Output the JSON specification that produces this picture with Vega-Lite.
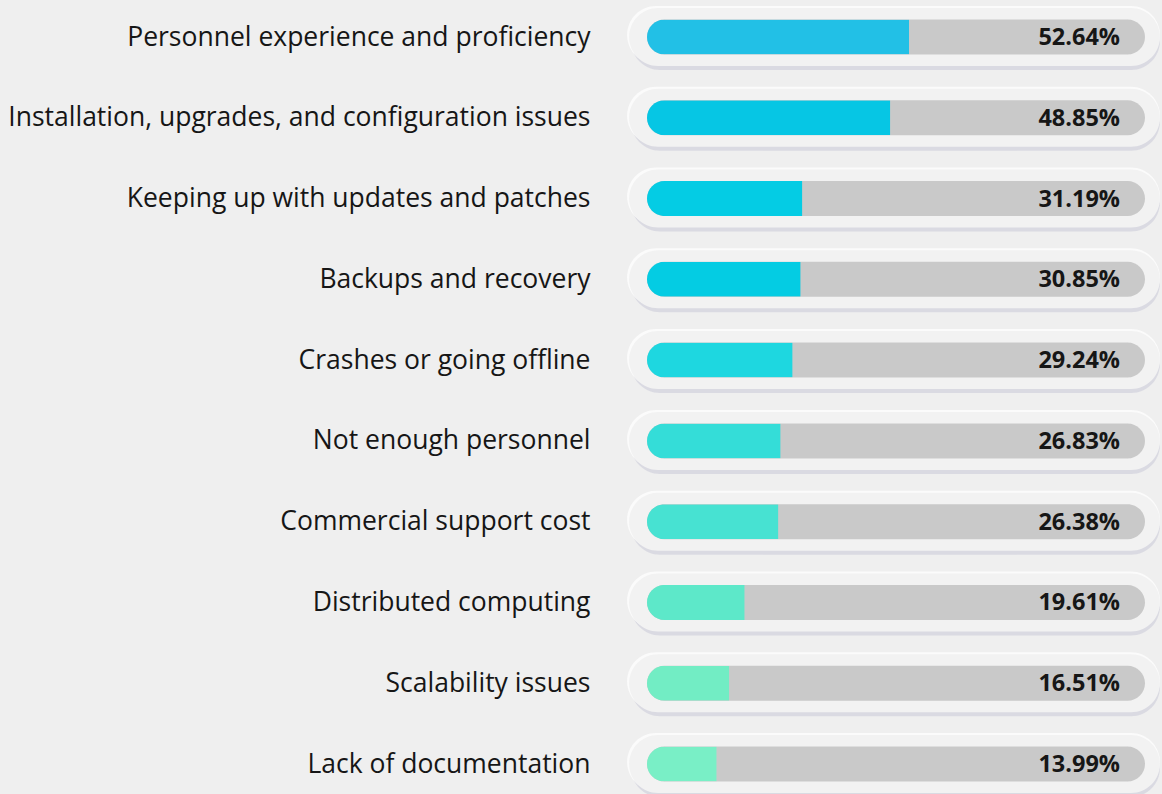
{
  "$schema": "https://vega.github.io/schema/vega-lite/v6.json",
  "width": 498,
  "height": 727,
  "autosize": {"type": "none"},
  "padding": {"left": 647, "top": 37, "right": 17, "bottom": 30},
  "background": "#efefef",
  "config": {"view": {"stroke": null}},
  "data": {
    "values": [
      {"challenge": "Personnel experience and proficiency", "value": 0.5264},
      {"challenge": "Installation, upgrades, and configuration issues", "value": 0.4885},
      {"challenge": "Keeping up with updates and patches", "value": 0.3119},
      {"challenge": "Backups and recovery", "value": 0.3085},
      {"challenge": "Crashes or going offline", "value": 0.2924},
      {"challenge": "Not enough personnel", "value": 0.2683},
      {"challenge": "Commercial support cost", "value": 0.2638},
      {"challenge": "Distributed computing", "value": 0.1961},
      {"challenge": "Scalability issues", "value": 0.1651},
      {"challenge": "Lack of documentation", "value": 0.1399}
    ]
  },
  "encoding": {
    "y": {
      "field": "challenge",
      "type": "nominal",
      "sort": null,
      "scale": {"type": "point", "padding": 0},
      "axis": {
        "title": null,
        "domain": false,
        "ticks": false,
        "grid": false,
        "labelPadding": 57,
        "labelFontSize": 26.5,
        "labelFont": "Open Sans",
        "labelColor": "#161616",
        "labelLimit": 0
      }
    }
  },
  "layer": [
    {
      "mark": {"type": "bar", "size": 58, "cornerRadius": 29, "color": "#d4d5de", "yOffset": 4, "xOffset": 2, "opacity": 0.8},
      "encoding": {
        "x": {"datum": -0.036, "type": "quantitative", "scale": {"domain": [0, 1], "nice": false, "zero": false}, "axis": null},
        "x2": {"datum": 1.03}
      }
    },
    {
      "mark": {"type": "bar", "size": 58, "cornerRadius": 29, "color": "#fbfbfb", "yOffset": -2, "xOffset": -2},
      "encoding": {
        "x": {"datum": -0.036, "type": "quantitative"},
        "x2": {"datum": 1.03}
      }
    },
    {
      "mark": {"type": "bar", "size": 58, "cornerRadius": 29, "color": "#f2f2f2"},
      "encoding": {
        "x": {"datum": -0.036, "type": "quantitative"},
        "x2": {"datum": 1.03}
      }
    },
    {
      "mark": {"type": "bar", "size": 35, "cornerRadius": 17.5, "color": "#c9c9c9"},
      "encoding": {
        "x": {"datum": 0, "type": "quantitative"},
        "x2": {"datum": 1}
      }
    },
    {
      "mark": {"type": "bar", "size": 35, "cornerRadiusTopLeft": 17.5, "cornerRadiusBottomLeft": 17.5},
      "encoding": {
        "x": {"field": "value", "type": "quantitative"},
        "color": {
          "field": "challenge",
          "type": "nominal",
          "sort": null,
          "legend": null,
          "scale": {
            "domain": [
              "Personnel experience and proficiency",
              "Installation, upgrades, and configuration issues",
              "Keeping up with updates and patches",
              "Backups and recovery",
              "Crashes or going offline",
              "Not enough personnel",
              "Commercial support cost",
              "Distributed computing",
              "Scalability issues",
              "Lack of documentation"
            ],
            "range": ["#22c0e6", "#06c6e4", "#04cce4", "#04cce3", "#1ed7e0", "#34ddd8", "#47e2d2", "#5de8c9", "#72edc4", "#79efc6"]
          }
        }
      }
    },
    {
      "mark": {"type": "text", "align": "right", "baseline": "middle", "dx": -25, "dy": 1, "fontSize": 23.5, "fontWeight": "bold", "font": "Open Sans", "color": "#161616"},
      "encoding": {
        "x": {"datum": 1, "type": "quantitative"},
        "text": {"field": "value", "type": "quantitative", "format": ".2%"}
      }
    }
  ]
}
